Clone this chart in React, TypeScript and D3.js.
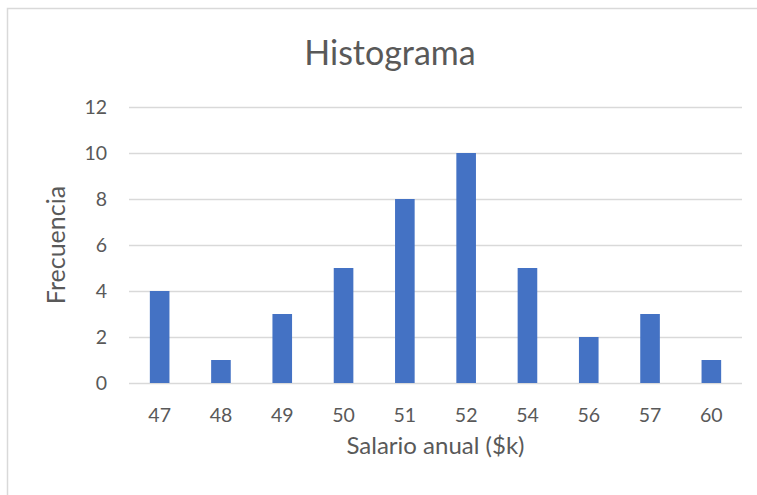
import * as d3 from "d3";
import React, { useEffect, useRef } from "react";

const categories = ["47", "48", "49", "50", "51", "52", "54", "56", "57", "60"];
const frequencies = [4, 1, 3, 5, 8, 10, 5, 2, 3, 1];
const yTicks = [0, 2, 4, 6, 8, 10, 12];

export default function App() {
  const svgRef = useRef<SVGSVGElement>(null);

  useEffect(() => {
    const svg = d3.select(svgRef.current);
    svg.selectAll("*").remove();

    const width = 757;
    const height = 495;
    const margin = { top: 107, right: 15, bottom: 112, left: 129 };
    const plotWidth = width - margin.left - margin.right;
    const plotHeight = height - margin.top - margin.bottom;
    const font = "Lato, 'Open Sans', sans-serif";
    const textColor = "#595959";

    // Chart frame
    svg.append("rect")
      .attr("x", 7.5)
      .attr("y", 8.5)
      .attr("width", 780)
      .attr("height", 500)
      .attr("fill", "#fff")
      .attr("stroke", "#d9d9d9")
      .attr("stroke-width", 1.5);

    const g = svg.append("g")
      .attr("transform", `translate(${margin.left},${margin.top})`);

    const xScale = d3.scaleBand()
      .domain(categories)
      .range([0, plotWidth])
      .paddingInner(0.68)
      .paddingOuter(0.34);

    const yScale = d3.scaleLinear()
      .domain([0, 12])
      .range([plotHeight, 0]);

    // Grid lines
    g.append("g")
      .selectAll("line")
      .data(yTicks)
      .join("line")
      .attr("x1", 0)
      .attr("x2", plotWidth)
      .attr("y1", d => Math.round(yScale(d)) + 0.5)
      .attr("y2", d => Math.round(yScale(d)) + 0.5)
      .attr("stroke", "#d9d9d9")
      .attr("stroke-width", 1.3);

    // Y tick labels
    g.append("g")
      .selectAll("text")
      .data(yTicks)
      .join("text")
      .attr("x", -22)
      .attr("y", d => yScale(d))
      .attr("dy", "0.36em")
      .attr("text-anchor", "end")
      .style("font-family", font)
      .style("font-size", "19.5px")
      .attr("fill", textColor)
      .text(d => d);

    // Bars
    g.append("g")
      .selectAll("rect")
      .data(frequencies)
      .join("rect")
      .attr("x", (d, i) => xScale(categories[i])!)
      .attr("y", d => yScale(d))
      .attr("width", xScale.bandwidth())
      .attr("height", d => plotHeight - yScale(d))
      .attr("fill", "#4472c4");

    // X tick labels
    g.append("g")
      .selectAll("text")
      .data(categories)
      .join("text")
      .attr("x", d => xScale(d)! + xScale.bandwidth() / 2)
      .attr("y", plotHeight + 39)
      .attr("text-anchor", "middle")
      .style("font-family", font)
      .style("font-size", "19.5px")
      .attr("fill", textColor)
      .text(d => d);

    // Axis titles
    g.append("text")
      .attr("x", plotWidth / 2)
      .attr("y", plotHeight + 71)
      .attr("text-anchor", "middle")
      .style("font-family", font)
      .style("font-size", "24px")
      .attr("fill", textColor)
      .text("Salario anual ($k)");

    g.append("text")
      .attr("transform", "rotate(-90)")
      .attr("x", -plotHeight / 2)
      .attr("y", -64)
      .attr("text-anchor", "middle")
      .style("font-family", font)
      .style("font-size", "25px")
      .attr("fill", textColor)
      .text("Frecuencia");

    // Title
    svg.append("text")
      .attr("x", 390)
      .attr("y", 65)
      .attr("text-anchor", "middle")
      .style("font-family", font)
      .style("font-size", "34px")
      .attr("fill", textColor)
      .text("Histograma");
  }, []);

  return (
    <svg
      ref={svgRef}
      width={757}
      height={495}
      style={{ position: "absolute", left: 0, top: 0, background: "#fff" }}
    ></svg>
  );
}
